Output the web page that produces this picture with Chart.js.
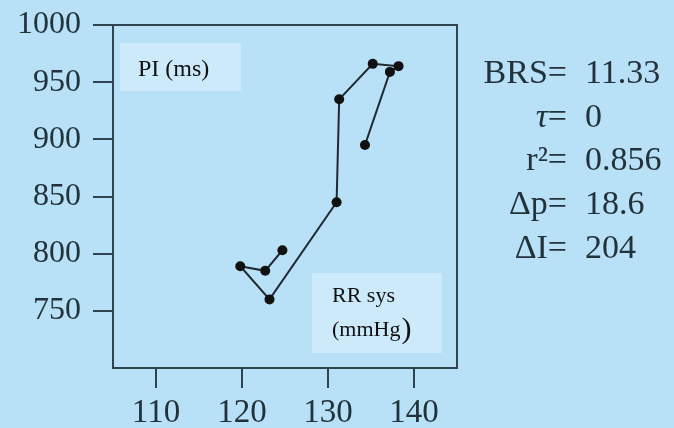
<!DOCTYPE html>
<html><head><meta charset="utf-8">
<script src="https://cdn.jsdelivr.net/npm/chart.js@4.4.0/dist/chart.umd.min.js"></script>
<style>html,body{margin:0;padding:0;background:#b8e0f6;overflow:hidden}#wrap{width:674px;height:428px}</style>
</head><body><div id="wrap"><canvas id="c" width="674" height="428"></canvas></div>
<script>
// ---- data ----
const sbpValues = [124.7, 122.7, 119.8, 123.2, 131.0, 131.3, 135.2, 138.2, 137.2, 134.3];
const piValues  = [803, 785, 789, 760, 845, 935, 966, 964, 959, 895];
const xTickValues = [110, 120, 130, 140];
const yTickValues = [750, 800, 850, 900, 950, 1000];
const statLabels = ['BRS', 'τ', 'r²', 'Δp', 'ΔI'];
const statValues = ['11.33', '0', '0.856', '18.6', '204'];
const yTitle = 'PI (ms)';
const xTitleLines = ['RR sys', '(mmHg'];

// ---- style ----
const BG = '#b8e0f6';
const BOX = '#cdeafb';
const INK = '#22323b';
const SERIF = '"Liberation Serif", "Times New Roman", serif';

const points = sbpValues.map((x, i) => ({ x: x, y: piValues[i] }));

const decor = {
  id: 'decor',
  beforeDraw(chart) {
    const ctx = chart.ctx;
    ctx.save();
    ctx.fillStyle = BG;
    ctx.fillRect(0, 0, chart.width, chart.height);
    ctx.restore();
  },
  beforeDatasetsDraw(chart) {
    const ctx = chart.ctx, a = chart.chartArea;
    ctx.save();
    ctx.fillStyle = BOX;
    ctx.fillRect(a.left + 7, a.top + 18, 121, 48);
    ctx.fillRect(a.left + 199, a.top + 248, 130, 80);
    ctx.fillStyle = '#111';
    ctx.textBaseline = 'alphabetic';
    ctx.textAlign = 'left';
    ctx.font = '24px ' + SERIF;
    ctx.fillText(yTitle, a.left + 25, a.top + 51);
    ctx.font = '22px ' + SERIF;
    ctx.fillText(xTitleLines[0], a.left + 219, a.top + 277);
    ctx.fillText(xTitleLines[1], a.left + 219, a.top + 311);
    const w = ctx.measureText(xTitleLines[1]).width;
    ctx.font = '30px ' + SERIF;
    ctx.fillText(')', a.left + 219 + w + 1, a.top + 313);
    ctx.restore();
  },
  afterDraw(chart) {
    const ctx = chart.ctx, a = chart.chartArea;
    ctx.save();
    ctx.strokeStyle = '#2e4450';
    ctx.lineWidth = 2;
    ctx.strokeRect(a.left, a.top, a.right - a.left, a.bottom - a.top);
    ctx.fillStyle = INK;
    ctx.textBaseline = 'alphabetic';
    const eqX = a.right + 110, valX = a.right + 128;
    const base0 = a.top + 58, step = 43.7;
    statLabels.forEach((lab, i) => {
      const y = base0 + i * step;
      ctx.font = '34px ' + SERIF;
      ctx.textAlign = 'right';
      ctx.fillText('=', eqX, y);
      const eqW = ctx.measureText('=').width;
      ctx.font = (lab === 'τ' ? 'italic ' : '') + '34px ' + SERIF;
      ctx.fillText(lab, eqX - eqW, y);
      ctx.font = '34px ' + SERIF;
      ctx.textAlign = 'left';
      ctx.fillText(statValues[i], valX, y);
    });
    ctx.restore();
  }
};

new Chart(document.getElementById('c'), {
  type: 'scatter',
  data: {
    datasets: [{
      data: points,
      showLine: true,
      borderColor: '#1f2a30',
      borderWidth: 2,
      pointBackgroundColor: '#111',
      pointBorderColor: '#111',
      pointRadius: 5,
      pointBorderWidth: 0
    }]
  },
  options: {
    responsive: false,
    animation: false,
    devicePixelRatio: 1,
    layout: { autoPadding: false, padding: { top: 25, right: 217, left: 0, bottom: 0 } },
    plugins: { legend: { display: false }, tooltip: { enabled: false } },
    scales: {
      x: {
        type: 'linear', min: 105, max: 145,
        afterBuildTicks: s => { s.ticks = xTickValues.map(v => ({ value: v })); },
        afterFit: s => { s.height = 60; s.paddingLeft = 0; s.paddingRight = 0; },
        border: { display: false },
        grid: { drawOnChartArea: false, drawTicks: true, tickLength: 20, color: '#2e4450', lineWidth: 2 },
        ticks: { color: INK, font: { family: SERIF, size: 33 }, padding: 6, maxRotation: 0, callback: v => String(v) }
      },
      y: {
        type: 'linear', min: 700, max: 1000,
        afterBuildTicks: s => { s.ticks = yTickValues.map(v => ({ value: v })); },
        afterFit: s => { s.width = 113; s.paddingTop = 0; s.paddingBottom = 0; },
        border: { display: false },
        grid: { drawOnChartArea: false, drawTicks: true, tickLength: 20, color: '#2e4450', lineWidth: 2 },
        ticks: { color: INK, font: { family: SERIF, size: 32 }, padding: 12, callback: v => String(v) }
      }
    }
  },
  plugins: [decor]
});
</script>
</body></html>
